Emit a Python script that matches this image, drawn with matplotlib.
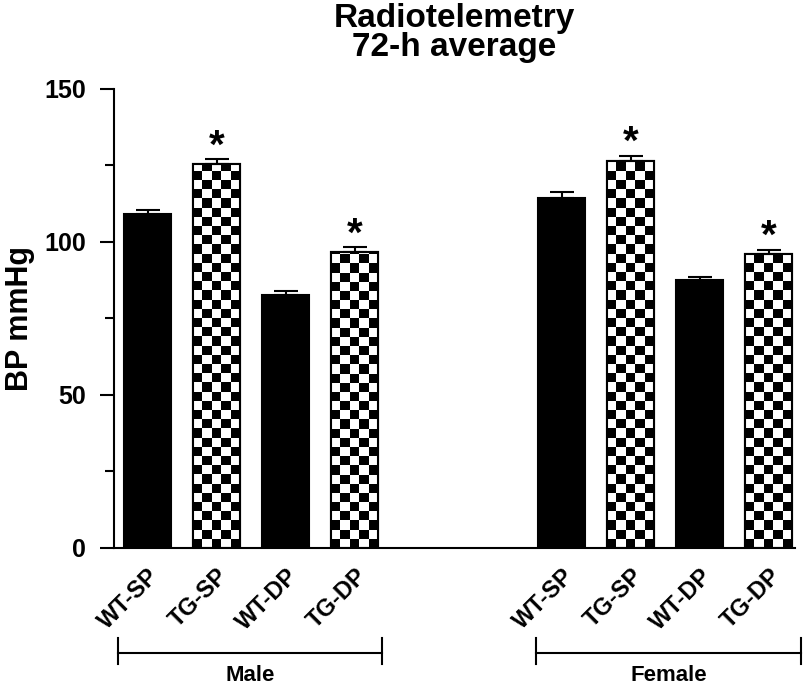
import matplotlib
matplotlib.use("Agg")
import matplotlib.pyplot as plt
import matplotlib.transforms as mtransforms
import numpy as np

plt.rcParams['font.family'] = ['Liberation Sans', 'DejaVu Sans']
plt.rcParams['font.weight'] = 'bold'

# data
labels = ["WT-SP", "TG-SP", "WT-DP", "TG-DP", "WT-SP", "TG-SP", "WT-DP", "TG-DP"]
positions = [0, 1, 2, 3, 6, 7, 8, 9]
values = [109.0, 125.5, 82.8, 96.7, 114.4, 126.5, 87.6, 96.2]
errors = [1.5, 1.5, 1.3, 1.5, 1.9, 1.6, 1.1, 1.3]
is_tg = [False, True, False, True, False, True, False, True]
signif = [False, True, False, True, False, True, False, True]
groups = ["Male", "Female"]
group_span = [(-0.43, 3.4), (5.63, 9.46)]

fig = plt.figure(figsize=(8.05, 6.86), dpi=100)
ax = fig.add_axes([0.1416, 0.2012, 0.846, 0.6691])

width = 0.68
bars = ax.bar(positions, values, width=width, color=['white' if t else 'black' for t in is_tg],
              edgecolor='black', linewidth=1.5, zorder=2)

# checkerboard fill for TG bars
cell_h = 3.0
for b, t in zip(bars, is_tg):
    if not t:
        continue
    x0, w, h = b.get_x(), b.get_width(), b.get_height()
    ny = int(np.ceil(h / cell_h))
    nx = 5
    jj, ii = np.meshgrid(np.arange(nx), np.arange(ny))
    board = (ii + jj) % 2
    im = ax.imshow(board, cmap='gray', origin='lower', interpolation='nearest', aspect='auto',
                   extent=[x0, x0 + w, 0, ny * cell_h], zorder=2.5)
    im.set_clip_path(b)
    # outline again on top of the pattern
    ax.bar(b.get_x() + w / 2, h, width=w, fill=False, edgecolor='black', linewidth=1.5, zorder=3)

ax.errorbar(positions, values, yerr=[np.zeros(len(errors)), errors], fmt='none',
            ecolor='black', elinewidth=1.5, capsize=8.3, capthick=1.5, zorder=4)

for p, v, e, s in zip(positions, values, errors, signif):
    if s:
        ax.text(p, v + e - 2.0, "*", ha='center', va='bottom', fontsize=29, fontweight='bold')

ax.set_xlim(-0.486, 9.38)
ax.set_ylim(0, 150)
ax.set_yticks([0, 50, 100, 150])
ax.set_yticks([25, 75, 125], minor=True)
ax.set_xticks(positions)
ax.set_xticklabels(labels, rotation=45, ha='right', rotation_mode='anchor',
                   fontsize=17, fontweight='bold')
shift = mtransforms.ScaledTranslation(6 / 100, 0, fig.dpi_scale_trans)
for lab in ax.get_xticklabels():
    lab.set_transform(lab.get_transform() + shift)
ax.tick_params(axis='x', length=0, pad=12)
ax.tick_params(axis='y', which='major', length=10, width=1.5, labelsize=18, pad=10)
ax.tick_params(axis='y', which='minor', length=6.5, width=1.5)
for sp in ['top', 'right']:
    ax.spines[sp].set_visible(False)
for sp in ['left', 'bottom']:
    ax.spines[sp].set_linewidth(1.5)

ax.set_ylabel("BP mmHg", fontsize=22, fontweight='bold', labelpad=7)
ax.set_title("Radiotelemetry\n72-h average", fontsize=24, fontweight='bold', pad=24,
             linespacing=0.9)

# group brackets below the labels
trans = ax.get_xaxis_transform()
for g, (a, b) in zip(groups, group_span):
    ax.plot([a, b], [-0.2288, -0.2288], color='black', lw=1.5, transform=trans, clip_on=False)
    for xe in (a, b):
        ax.plot([xe, xe], [-0.196, -0.2527], color='black', lw=1.5, transform=trans, clip_on=False)
    ax.text((a + b) / 2, -0.277, g, ha='center', va='center', fontsize=16,
            fontweight='bold', transform=trans)

fig.savefig("out.png", dpi=100)
